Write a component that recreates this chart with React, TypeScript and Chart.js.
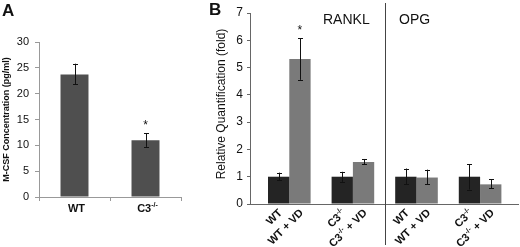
import React, { useEffect, useRef } from "react";
import { Chart, registerables } from "chart.js";
Chart.register(...registerables);

const FONT = "'Liberation Sans', Arial, Helvetica, sans-serif";

type Part = { t: string; sup?: boolean };

// ---------- Panel A data ----------
const catsA = ["WT", "C3-/-"];
const catLabelsA: Part[][] = [[{ t: "WT" }], [{ t: "C3" }, { t: "-/-", sup: true }]];
const valuesA = [23.7, 11.0];
const errLowA = [21.8, 9.7];
const errHighA = [25.8, 12.3];
const starsA: (number | null)[] = [null, 14.5];
const yMaxA = 30;
const yStepA = 5;

// ---------- Panel B data ----------
const groupsB = ["RANKL WT", "RANKL C3-/-", "OPG WT", "OPG C3-/-"];
const ctrlLabelsB: Part[][] = [
  [{ t: "WT" }],
  [{ t: "C3" }, { t: "-/-", sup: true }],
  [{ t: "WT" }],
  [{ t: "C3" }, { t: "-/-", sup: true }],
];
const vdLabelsB: Part[][] = [
  [{ t: "WT + VD" }],
  [{ t: "C3" }, { t: "-/-", sup: true }, { t: " + VD" }],
  [{ t: "WT + VD" }],
  [{ t: "C3" }, { t: "-/-", sup: true }, { t: " + VD" }],
];
const ctrlB = [1.0, 1.0, 1.0, 1.0];
const ctrlLowB = [0.87, 0.81, 0.72, 0.53];
const ctrlHighB = [1.15, 1.18, 1.3, 1.46];
const vdB = [5.31, 1.54, 0.97, 0.72];
const vdLowB = [4.55, 1.45, 0.72, 0.57];
const vdHighB = [6.08, 1.65, 1.26, 0.9];
const vdStarsB: (number | null)[] = [6.48, null, null, null];
const genesB = ["RANKL", "OPG"];
const yMaxB = 7;
const yStepB = 1;

function drawRich(
  ctx: CanvasRenderingContext2D,
  parts: Part[],
  x: number,
  y: number,
  align: "center" | "right",
  size: number
) {
  const mainFont = `bold ${size}px ${FONT}`;
  const supFont = `bold ${Math.round(size * 0.6)}px ${FONT}`;
  const widths = parts.map((p) => {
    ctx.font = p.sup ? supFont : mainFont;
    return ctx.measureText(p.t).width;
  });
  const total = widths.reduce((a, b) => a + b, 0);
  let cx = align === "center" ? x - total / 2 : x - total;
  ctx.textAlign = "left";
  ctx.textBaseline = "alphabetic";
  parts.forEach((p, i) => {
    ctx.font = p.sup ? supFont : mainFont;
    ctx.fillText(p.t, cx, p.sup ? y - size * 0.42 : y);
    cx += widths[i];
  });
}

function errorBars(chart: any, dsIndex: number, lows: number[], highs: number[]) {
  const ctx = chart.ctx as CanvasRenderingContext2D;
  const y = chart.scales.y;
  const meta = chart.getDatasetMeta(dsIndex);
  ctx.save();
  ctx.strokeStyle = "#111";
  ctx.lineWidth = 1;
  meta.data.forEach((el: any, i: number) => {
    const x = Math.round(el.x) + 0.5;
    const y1 = y.getPixelForValue(lows[i]);
    const y2 = y.getPixelForValue(highs[i]);
    ctx.beginPath();
    ctx.moveTo(x, y1);
    ctx.lineTo(x, y2);
    ctx.moveTo(x - 2.5, Math.round(y1) + 0.5);
    ctx.lineTo(x + 2.5, Math.round(y1) + 0.5);
    ctx.moveTo(x - 2.5, Math.round(y2) + 0.5);
    ctx.lineTo(x + 2.5, Math.round(y2) + 0.5);
    ctx.stroke();
  });
  ctx.restore();
}

function stars(chart: any, dsIndex: number, vals: (number | null)[], size: number) {
  const ctx = chart.ctx as CanvasRenderingContext2D;
  const y = chart.scales.y;
  const meta = chart.getDatasetMeta(dsIndex);
  ctx.save();
  ctx.fillStyle = "#111";
  ctx.font = `${size}px ${FONT}`;
  ctx.textAlign = "center";
  ctx.textBaseline = "alphabetic";
  meta.data.forEach((el: any, i: number) => {
    const v = vals[i];
    if (v == null) return;
    ctx.fillText("*", el.x, y.getPixelForValue(v) + size * 0.58);
  });
  ctx.restore();
}

function PanelA() {
  const ref = useRef<HTMLCanvasElement>(null);
  useEffect(() => {
    if (!ref.current) return;
    const plugin = {
      id: "panelA",
      afterDatasetsDraw(chart: any) {
        errorBars(chart, 0, errLowA, errHighA);
        stars(chart, 0, starsA, 12);
        const ctx = chart.ctx as CanvasRenderingContext2D;
        const area = chart.chartArea;
        ctx.save();
        ctx.fillStyle = "#111";
        const meta = chart.getDatasetMeta(0);
        meta.data.forEach((el: any, i: number) => {
          drawRich(ctx, catLabelsA[i], el.x + 2, area.bottom + 15, "center", 11);
        });
        // y title
        ctx.save();
        ctx.translate(7, (area.top + area.bottom) / 2);
        ctx.rotate(-Math.PI / 2);
        ctx.font = `bold 9px ${FONT}`;
        ctx.textAlign = "center";
        ctx.textBaseline = "middle";
        ctx.fillText("M-CSF Concentration (pg/ml)", 0, 0);
        ctx.restore();
        // panel letter
        ctx.font = `bold 17px ${FONT}`;
        ctx.textAlign = "left";
        ctx.textBaseline = "top";
        ctx.fillText("A", 2, 3);
        ctx.restore();
      },
    };
    const chart = new Chart(ref.current, {
      type: "bar",
      data: {
        labels: catsA,
        datasets: [
          {
            data: valuesA,
            backgroundColor: "#4f4f4f",
            barPercentage: 0.394,
            categoryPercentage: 1,
          },
        ],
      },
      options: {
        animation: false,
        responsive: false,
        maintainAspectRatio: false,
        layout: { padding: { top: 42, right: 19, left: 0, bottom: 0 } },
        plugins: { legend: { display: false }, tooltip: { enabled: false }, title: { display: false } },
        scales: {
          x: {
            afterFit: (s: any) => {
              s.height = 50;
            },
            ticks: { display: false },
            grid: { display: true, drawOnChartArea: false, drawTicks: true, tickLength: 4, offset: true, color: "#999" },
            border: { display: true, color: "#999" },
          },
          y: {
            min: 0,
            max: yMaxA,
            afterFit: (s: any) => {
              s.width = 39;
            },
            ticks: { stepSize: yStepA, color: "#111", font: { family: FONT, size: 11 }, padding: 6 },
            grid: { display: true, drawOnChartArea: false, drawTicks: true, tickLength: 4, color: "#999" },
            border: { display: true, color: "#999" },
          },
        },
      },
      plugins: [plugin],
    });
    return () => chart.destroy();
  }, []);
  return <canvas ref={ref} width={200} height={247} style={{ position: "absolute", left: 0, top: 0, width: 200, height: 247 }} />;
}

// padding of the category range for panel B (in category units)
const X_START_B = -0.618;
const X_RANGE_B = 4.214;

function PanelB() {
  const ref = useRef<HTMLCanvasElement>(null);
  useEffect(() => {
    if (!ref.current) return;
    const plugin = {
      id: "panelB",
      afterDatasetsDraw(chart: any) {
        errorBars(chart, 0, ctrlLowB, ctrlHighB);
        errorBars(chart, 1, vdLowB, vdHighB);
        stars(chart, 1, vdStarsB, 12);
        const ctx = chart.ctx as CanvasRenderingContext2D;
        const area = chart.chartArea;
        const xs = chart.scales.x;
        ctx.save();
        ctx.fillStyle = "#111";
        const draw = (dsIndex: number, labels: Part[][]) => {
          chart.getDatasetMeta(dsIndex).data.forEach((el: any, i: number) => {
            ctx.save();
            ctx.translate(el.x + 4, area.bottom + 9.5);
            ctx.rotate(-Math.PI / 4);
            drawRich(ctx, labels[i], 0, 0, "right", 11);
            ctx.restore();
          });
        };
        draw(0, ctrlLabelsB);
        draw(1, vdLabelsB);
        // divider between genes
        const dx = Math.round(xs.getPixelForValue(1.5)) + 0.5;
        ctx.strokeStyle = "#444";
        ctx.lineWidth = 1;
        ctx.beginPath();
        ctx.moveTo(dx, 3);
        ctx.lineTo(dx, 245);
        ctx.stroke();
        // gene names
        ctx.font = `14px ${FONT}`;
        ctx.textAlign = "left";
        ctx.textBaseline = "middle";
        ctx.fillText(genesB[0], 123, 20);
        ctx.fillText(genesB[1], 199, 20);
        // y title
        ctx.save();
        ctx.translate(22, 104);
        ctx.rotate(-Math.PI / 2);
        ctx.font = `12px ${FONT}`;
        ctx.textAlign = "center";
        ctx.textBaseline = "middle";
        ctx.fillText("Relative Quantification (fold)", 0, 0);
        ctx.restore();
        // panel letter
        ctx.font = `bold 17px ${FONT}`;
        ctx.textAlign = "left";
        ctx.textBaseline = "top";
        ctx.fillText("B", 9, 2);
        ctx.restore();
      },
    };
    const chart = new Chart(ref.current, {
      type: "bar",
      data: {
        labels: groupsB,
        datasets: [
          { data: ctrlB, backgroundColor: "#242424", barPercentage: 1, categoryPercentage: 0.67 },
          { data: vdB, backgroundColor: "#7a7a7a", barPercentage: 1, categoryPercentage: 0.67 },
        ],
      },
      options: {
        animation: false,
        responsive: false,
        maintainAspectRatio: false,
        layout: { padding: { top: 13, right: 2, left: 0, bottom: 0 } },
        plugins: { legend: { display: false }, tooltip: { enabled: false }, title: { display: false } },
        scales: {
          x: {
            afterFit: (s: any) => {
              s.height = 43;
            },
            afterBuildTicks: (s: any) => {
              s._startValue = X_START_B;
              s._valueRange = X_RANGE_B;
            },
            ticks: { display: false },
            grid: { display: false },
            border: { display: true, color: "#666" },
          },
          y: {
            min: 0,
            max: yMaxB,
            afterFit: (s: any) => {
              s.width = 50;
            },
            ticks: { stepSize: yStepB, color: "#111", font: { family: FONT, size: 12 }, padding: 4 },
            grid: { display: true, drawOnChartArea: false, drawTicks: true, tickLength: 3, color: "#666" },
            border: { display: true, color: "#666" },
          },
        },
      },
      plugins: [plugin],
    });
    return () => chart.destroy();
  }, []);
  return <canvas ref={ref} width={320} height={247} style={{ position: "absolute", left: 200, top: 0, width: 320, height: 247 }} />;
}

export default function App() {
  return (
    <div style={{ position: "absolute", left: 0, top: 0, width: 520, height: 247, background: "#fff", overflow: "hidden" }}>
      <PanelA />
      <PanelB />
    </div>
  );
}
